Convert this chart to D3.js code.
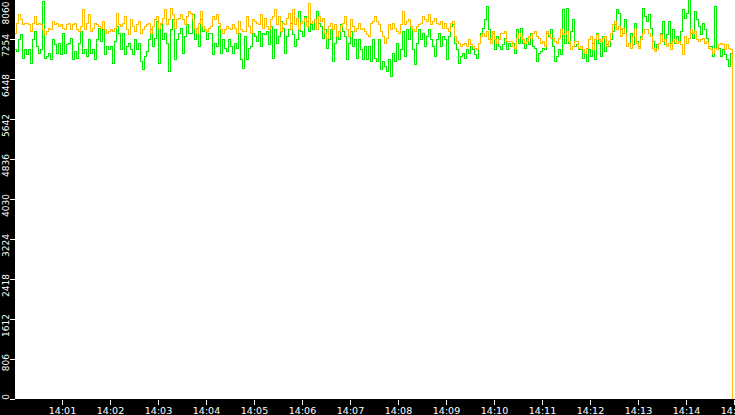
<!DOCTYPE html>
<html><head><meta charset="utf-8">
<script src="https://cdn.jsdelivr.net/npm/d3@7"></script>
<style>html,body{margin:0;padding:0;background:#000;overflow:hidden}</style>
</head><body>
<svg id="chart" width="735" height="415"></svg>
<script>
// ---- data ----
const yTickValues = [0, 806, 1612, 2418, 3224, 4030, 4836, 5642, 6448, 7254, 8060];
const xTickLabels = ["14:01","14:02","14:03","14:04","14:05","14:06","14:07","14:08","14:09","14:10","14:11","14:12","14:13","14:14","14:15"];
const domainStart = "14:00:00";
const domainEnd = "14:15:00";
const sampleStart = "14:00:01";
const sampleStepSeconds = 2.5;

const seriesGreen = [
7038,7005,7240,7341,6871,7038,6938,7038,6770,7240,
7408,7106,6971,7038,8012,6871,6904,6971,6837,7240,
7139,6971,7173,6938,7374,6971,7139,7173,7273,6837,
7005,6871,7173,7408,6971,7038,6904,7240,6971,7038,
6837,7240,7475,7206,7441,6938,7106,7038,7106,6770,
7206,7509,7374,7038,7374,6938,7106,7173,7038,6938,
7240,7038,7173,6803,6635,6904,7005,7240,7441,7106,
7273,7609,6770,7542,7240,7374,7173,6602,7441,7643,
6837,7240,7374,7475,6971,7307,7542,7374,7374,7744,
7240,7475,7106,7643,7408,7441,7240,7374,7374,6938,
7173,7106,7509,6971,7240,7072,7005,7240,7106,6971,
7173,7072,7374,6837,6669,7307,6837,7072,7106,7374,
7307,7206,7408,7106,7374,7341,7408,7139,7509,6871,
7441,7173,7307,7609,7475,6971,7307,7441,7576,7341,
7106,7240,7811,7408,7307,7710,7609,7408,7542,7441,
7643,7811,7576,7509,7273,7441,7072,7240,7441,6803,
7173,7307,7240,7542,7408,7307,6837,7173,7408,7106,
7240,6871,7240,7038,6837,7106,6837,7106,6803,7240,
6871,6803,7240,6635,6803,6703,6602,6837,6501,6971,
6803,7173,6837,7038,7408,6904,7441,7240,7509,7038,
6736,7173,7441,7240,7374,7106,7307,7441,7240,7106,
6904,7240,7374,7106,7307,7240,6837,7307,7509,7542,
7173,7038,6770,6904,6971,6871,7038,6971,7106,7038,
6938,6871,7173,7374,7475,7643,7912,7441,7240,7374,
7038,7307,7106,7038,7139,7273,7038,7173,7106,7173,
6971,7441,7173,7475,7173,7072,7273,7139,7374,7106,
7072,6803,6971,7005,7072,7038,7374,7307,7441,7106,
6803,6904,7038,6938,7845,7173,7878,7173,7408,7643,
7106,7139,7038,7038,6871,6971,6803,7038,6904,7173,
6837,7374,7173,6904,7307,7005,7139,7106,7240,7408,
7542,7845,7777,7441,7374,7643,7106,7173,7374,7139,
7576,7206,7106,7307,7878,7710,7609,7744,7475,7206,
7038,7139,7173,7374,7609,7139,7341,7609,7173,7441,
7173,7307,7206,7408,7845,7677,7777,8046,7374,7273,
7811,7643,7509,7341,7576,7441,7273,7106,7106,6904,
7912,7038,7072,6904,7038,6938,6837,6703,6971,3470
];

const seriesOrange = [
7374,7576,7744,7643,7542,7576,7576,7542,7408,7576,
7710,7542,7576,7542,7441,7341,7408,7475,7441,7609,
7542,7576,7509,7542,7475,7441,7542,7576,7441,7542,
7576,7441,7408,7509,7845,7441,7576,7744,7408,7475,
7576,7542,7509,7475,7609,7441,7374,7408,7441,7408,
7475,7777,7542,7509,7576,7710,7441,7341,7643,7509,
7408,7542,7609,7374,7441,7509,7542,7576,7374,7509,
7643,7710,7475,7576,7677,7845,7542,7643,7878,7744,
7475,7643,7677,7744,7643,7542,7710,7811,7777,7643,
7475,7374,7576,7811,7509,7441,7408,7475,7509,7710,
7643,7744,7576,7441,7374,7441,7509,7475,7441,7542,
7475,7374,7609,7441,7408,7408,7710,7509,7374,7643,
7609,7576,7542,7744,7475,7677,7509,7441,7643,7710,
7845,7542,7710,7408,7576,7542,7677,7777,7441,7845,
7542,7677,7441,7576,7609,7677,7509,7979,7576,7609,
7643,7441,7710,7609,7677,7374,7273,7509,7576,7441,
7542,7307,7408,7509,7576,7710,7441,7307,7643,7509,
7408,7475,7576,7441,7475,7408,7341,7307,7576,7609,
7710,7609,7542,7408,7307,7173,7273,7542,7441,7576,
7475,7408,7374,7542,7811,7542,7609,7643,7509,7441,
7408,7509,7542,7576,7710,7643,7609,7744,7542,7609,
7677,7576,7542,7609,7475,7576,7475,7408,7576,7609,
7307,7206,7173,7106,7139,7173,7106,7240,7139,7106,
7072,7038,7173,7307,7374,7307,7408,7240,7173,7408,
7240,7173,7240,7374,7374,7408,7206,7206,7206,7106,
7072,7273,7374,7307,7240,7173,7206,7307,7273,7374,
7408,7307,7273,7173,7206,7106,7408,7341,7273,7273,
7206,7173,7273,7441,7341,7374,7408,7206,7038,7106,
7206,7206,7072,7106,7038,6971,7072,7240,7307,7038,
7240,7341,7240,7206,7273,7307,7106,7206,7374,7542,
7609,7441,7509,7307,7475,7374,7106,7173,7072,7307,
7441,7173,7072,7240,7374,7441,7441,7374,7307,7072,
7005,7038,7173,7341,7206,7240,7106,7173,7038,7206,
7240,7173,7206,7139,6938,7307,7173,7273,7441,7374,
7408,7240,7206,7240,7273,7173,7206,7072,7038,6971,
7072,7038,7139,7173,7139,7038,7139,7072,7038,0
];

// ---- chart ----
const W = 735, H = 415;
const plotLeft = 15, plotBottom = 399;
const svg = d3.select("#chart");
const parse = d3.timeParse("%H:%M:%S");
const fmt = d3.timeFormat("%H:%M");

const x = d3.scaleTime().domain([parse(domainStart), parse(domainEnd)]).range([14, 734]);
const y = d3.scaleLinear().domain([0, 8060]).range([399, -1]);

svg.append("rect").attr("x", 0).attr("y", 0).attr("width", W).attr("height", H).attr("fill", "#000");
svg.append("rect").attr("x", plotLeft).attr("y", 0).attr("width", W - plotLeft).attr("height", plotBottom).attr("fill", "#fff");

svg.append("defs").append("clipPath").attr("id", "clip")
  .append("rect").attr("x", plotLeft).attr("y", 0).attr("width", W - plotLeft).attr("height", plotBottom + 1);

const t0 = parse(sampleStart);
const timeAt = i => new Date(+t0 + i * sampleStepSeconds * 1000);

const line = d3.line()
  .x((d, i) => x(timeAt(i)))
  .y(d => y(d))
  .curve(d3.curveStepAfter);

const plot = svg.append("g").attr("clip-path", "url(#clip)");
plot.append("path").datum(seriesGreen)
  .attr("fill", "none").attr("stroke", "#00ee00").attr("stroke-width", 1)
  .attr("shape-rendering", "crispEdges").attr("d", line);
plot.append("path").datum(seriesOrange)
  .attr("fill", "none").attr("stroke", "#ffbb00").attr("stroke-width", 1)
  .attr("shape-rendering", "crispEdges").attr("d", line);

// y axis
const yAxis = svg.append("g").attr("transform", `translate(${plotLeft},0)`)
  .call(d3.axisLeft(y).tickValues(yTickValues).tickSize(5).tickFormat(d3.format("d")));
yAxis.select(".domain").remove();
yAxis.selectAll(".tick line").attr("stroke", "#fff");
yAxis.selectAll(".tick text")
  .attr("fill", "#fff").attr("font-family", "DejaVu Sans").attr("font-size", 9)
  .attr("text-anchor", "end").attr("x", null).attr("y", null).attr("dy", null)
  .attr("transform", d => {
    const ty = Math.max(-5.5, 1.5 - (y(d) + 0.5));
    return `translate(-6.5,${ty}) rotate(-90)`;
  });

// x axis
const xTicks = xTickLabels.map(s => parse(s + ":00"));
const xAxis = svg.append("g").attr("transform", `translate(0,${plotBottom + 1})`)
  .call(d3.axisBottom(x).tickValues(xTicks).tickSize(5).tickFormat(fmt));
xAxis.select(".domain").remove();
xAxis.selectAll(".tick line").attr("stroke", "#fff");
xAxis.selectAll(".tick text")
  .attr("fill", "#fff").attr("font-family", "DejaVu Sans").attr("font-size", 9.5)
  .attr("y", 13.5).attr("dy", null);
</script>
</body></html>
